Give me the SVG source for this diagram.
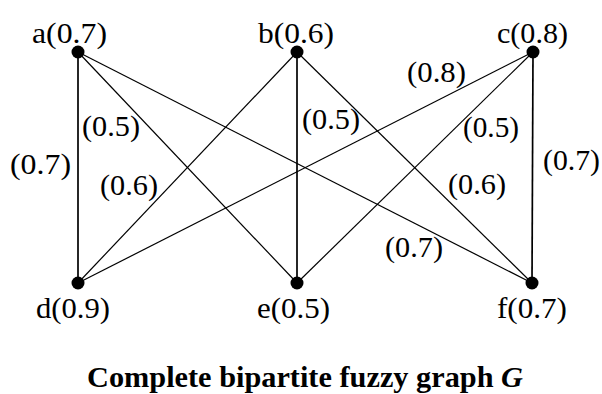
<svg xmlns="http://www.w3.org/2000/svg" width="602" height="394" viewBox="0 0 602 394">
<style>
text{font-family:"Liberation Serif","Times New Roman",serif;font-size:30px;fill:#000}
.e{stroke:#000;stroke-width:1.2;fill:none}
.v{stroke:#000;stroke-width:1.7;fill:none}
.dot{fill:#000}
.t{font-weight:bold}
</style>
<rect width="602" height="394" fill="#fff"/>
<g id="connectors">
<line class="v" x1="78" y1="52" x2="78" y2="283"/>
<line class="e" x1="78" y1="52" x2="297" y2="283"/>
<line class="e" x1="78" y1="52" x2="532" y2="283"/>
<line class="e" x1="297" y1="52" x2="78" y2="283"/>
<line class="v" x1="297" y1="52" x2="297" y2="283"/>
<line class="e" x1="297" y1="52" x2="532" y2="283"/>
<line class="e" x1="533" y1="52" x2="78" y2="283"/>
<line class="e" x1="533" y1="52" x2="297" y2="283"/>
<line class="v" x1="533" y1="52" x2="532" y2="283"/>
<text x="10" y="174" textLength="61" lengthAdjust="spacingAndGlyphs">(0.7)</text>
<text x="82" y="136" textLength="58" lengthAdjust="spacingAndGlyphs">(0.5)</text>
<text x="100" y="195" textLength="58" lengthAdjust="spacingAndGlyphs">(0.6)</text>
<text x="385" y="257" textLength="58" lengthAdjust="spacingAndGlyphs">(0.7)</text>
<text x="302" y="129" textLength="58" lengthAdjust="spacingAndGlyphs">(0.5)</text>
<text x="407" y="82" textLength="59" lengthAdjust="spacingAndGlyphs">(0.8)</text>
<text x="463" y="137" textLength="56" lengthAdjust="spacingAndGlyphs">(0.5)</text>
<text x="448" y="194" textLength="58" lengthAdjust="spacingAndGlyphs">(0.6)</text>
<text x="543" y="170" textLength="57" lengthAdjust="spacingAndGlyphs">(0.7)</text>
</g>
<g id="node-a"><circle class="dot" cx="78" cy="52" r="6.5"/><text x="32" y="43" textLength="75" lengthAdjust="spacingAndGlyphs">a(0.7)</text></g>
<g id="node-b"><circle class="dot" cx="297" cy="52" r="6.5"/><text x="258" y="43" textLength="76" lengthAdjust="spacingAndGlyphs">b(0.6)</text></g>
<g id="node-c"><circle class="dot" cx="533" cy="52" r="6.5"/><text x="497" y="43" textLength="71" lengthAdjust="spacingAndGlyphs">c(0.8)</text></g>
<g id="node-d"><circle class="dot" cx="78" cy="283" r="6.5"/><text x="36" y="318" textLength="74" lengthAdjust="spacingAndGlyphs">d(0.9)</text></g>
<g id="node-e"><circle class="dot" cx="297" cy="283" r="6.5"/><text x="257" y="318" textLength="73" lengthAdjust="spacingAndGlyphs">e(0.5)</text></g>
<g id="node-f"><circle class="dot" cx="532" cy="283" r="6.5"/><text x="497" y="318" textLength="70" lengthAdjust="spacingAndGlyphs">f(0.7)</text></g>
<g id="title"><text class="t" x="87" y="387" textLength="436" lengthAdjust="spacingAndGlyphs">Complete bipartite fuzzy graph <tspan font-style="italic">G</tspan></text></g>
</svg>
